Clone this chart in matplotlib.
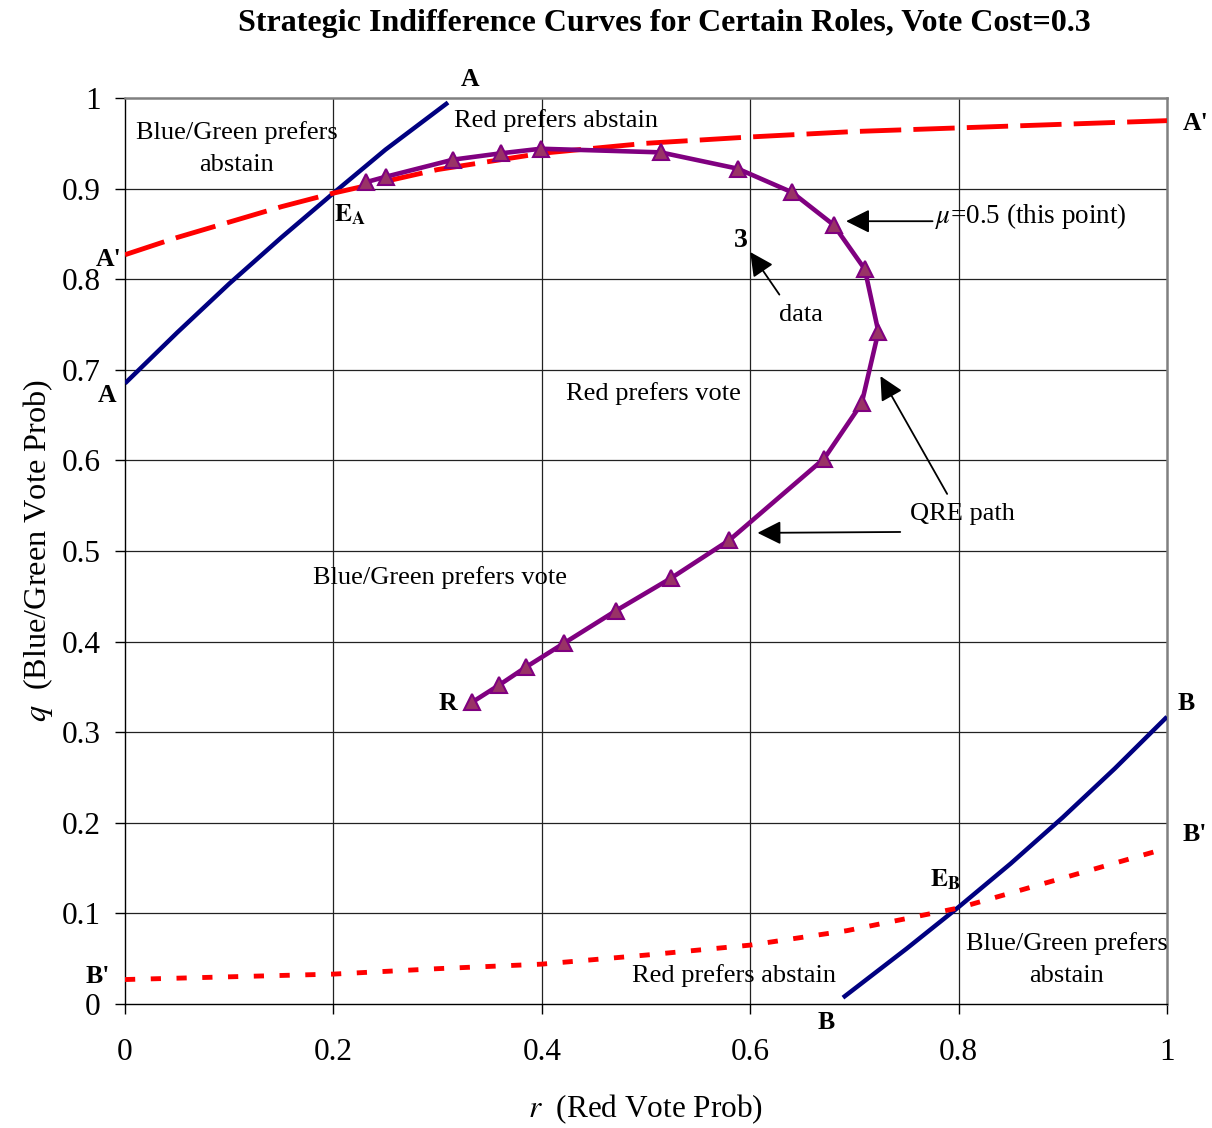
import matplotlib
matplotlib.use("Agg")
import matplotlib.pyplot as plt

plt.rcParams['font.family'] = ['Liberation Serif', 'DejaVu Serif']
plt.rcParams['mathtext.fontset'] = 'stix'

# ---- data ----
qre_r = [0.333, 0.359, 0.385, 0.421, 0.471, 0.524, 0.580, 0.671, 0.707, 0.723,
         0.710, 0.680, 0.640, 0.588, 0.514, 0.399, 0.361, 0.315, 0.250, 0.231]
qre_q = [0.333, 0.352, 0.372, 0.398, 0.434, 0.470, 0.512, 0.602, 0.663, 0.742,
         0.811, 0.860, 0.896, 0.922, 0.940, 0.944, 0.939, 0.932, 0.913, 0.907]

a_r = [0.0, 0.05, 0.10, 0.15, 0.20, 0.25, 0.31]
a_q = [0.685, 0.741, 0.795, 0.846, 0.895, 0.943, 0.995]

ap_r = [0.0, 0.05, 0.10, 0.15, 0.20, 0.30, 0.40, 0.50, 0.60, 0.70, 0.80, 0.90, 1.0]
ap_q = [0.827, 0.846, 0.863, 0.880, 0.895, 0.921, 0.939, 0.950, 0.957, 0.963, 0.967, 0.971, 0.975]

b_r = [0.689, 0.75, 0.80, 0.85, 0.90, 0.95, 1.0]
b_q = [0.007, 0.061, 0.107, 0.155, 0.206, 0.260, 0.317]

bp_r = [0.0, 0.1, 0.2, 0.3, 0.4, 0.5, 0.6, 0.693, 0.8, 0.9, 1.0]
bp_q = [0.027, 0.030, 0.033, 0.039, 0.044, 0.054, 0.065, 0.081, 0.106, 0.139, 0.172]

x_ticks = [0, 0.2, 0.4, 0.6, 0.8, 1]
x_labels = ['0', '0.2', '0.4', '0.6', '0.8', '1']
y_ticks = [0, 0.1, 0.2, 0.3, 0.4, 0.5, 0.6, 0.7, 0.8, 0.9, 1]
y_labels = ['0', '0.1', '0.2', '0.3', '0.4', '0.5', '0.6', '0.7', '0.8', '0.9', '1']

fig = plt.figure(figsize=(12.12, 11.28), dpi=100)
ax = fig.add_axes([125/1212, 1 - 1004/1128, (1167-125)/1212, (1004-98)/1128])

ax.set_xlim(0, 1)
ax.set_ylim(0, 1)

# grid
for x in x_ticks[1:-1]:
    ax.axvline(x, color='#222222', lw=0.9, zorder=1)
for y in y_ticks[1:-1]:
    ax.axhline(y, color='#222222', lw=0.9, zorder=1)

# curves
ax.plot(a_r, a_q, color='#000080', lw=3.2, zorder=3, solid_capstyle='butt')
ax.plot(b_r, b_q, color='#000080', lw=3.2, zorder=3, solid_capstyle='butt')
l1, = ax.plot(ap_r, ap_q, color='#FF0000', lw=3.5, zorder=3, dash_capstyle='butt')
l1.set_dashes((8.5, 2.5))
l2, = ax.plot(bp_r, bp_q, color='#FF0000', lw=3.5, zorder=3, dash_capstyle='butt')
l2.set_dashes((2.1, 3.2))
ax.plot(qre_r, qre_q, color='#800080', lw=3.3, zorder=4,
        marker='^', markersize=11, markerfacecolor='#993366',
        markeredgecolor='#800080', markeredgewidth=1.5)

# spines
for s in ['left', 'bottom']:
    ax.spines[s].set_color('black')
    ax.spines[s].set_linewidth(1.0)
for s in ['top', 'right']:
    ax.spines[s].set_color('#808080')
    ax.spines[s].set_linewidth(1.8)

ax.set_xticks(x_ticks)
ax.set_xticklabels(x_labels)
ax.set_yticks(y_ticks)
ax.set_yticklabels(y_labels)
ax.tick_params(axis='both', direction='out', length=7.5, width=1.0, labelsize=22.5, color='black')
ax.tick_params(axis='x', pad=17)
ax.tick_params(axis='y', pad=10)

ax.set_xlabel(r'$r$  (Red Vote Prob)', fontsize=22.5, labelpad=18)
ax.set_ylabel(r'$q$  (Blue/Green Vote Prob)', fontsize=23.2, labelpad=5)

fig.text(664/1212, 1 - 23/1128, 'Strategic Indifference Curves for Certain Roles, Vote Cost=0.3',
         ha='center', va='center', fontsize=23, fontweight='bold')

# bold labels
bold = dict(fontsize=18.5, fontweight='bold', ha='center', va='center', clip_on=False, zorder=6)
ax.text(0.331, 1.020, 'A', **bold)
ax.text(1.027, 0.972, "A'", **bold)
ax.text(-0.016, 0.822, "A'", **bold)
ax.text(-0.017, 0.672, 'A', **bold)
ax.text(0.216, 0.871, r'$\mathbf{E_{A}}$', **bold)
ax.text(0.591, 0.843, '3', fontsize=20, fontweight='bold', ha='center', va='center', zorder=6)
ax.text(0.310, 0.332, 'R', **bold)
ax.text(1.018, 0.332, 'B', **bold)
ax.text(1.027, 0.187, "B'", **bold)
ax.text(0.787, 0.137, r'$\mathbf{E_{B}}$', **bold)
ax.text(-0.026, 0.030, "B'", **bold)
ax.text(0.673, -0.020, 'B', **bold)

# region texts
norm = dict(fontsize=19, ha='center', va='center', zorder=6, linespacing=1.62)
ax.text(0.107, 0.944, 'Blue/Green prefers\nabstain', **norm)
ax.text(0.414, 0.975, 'Red prefers abstain', **norm)
ax.text(0.649, 0.760, 'data', **norm)
ax.text(0.507, 0.674, 'Red prefers vote', **norm)
ax.text(0.804, 0.541, 'QRE path', **norm)
ax.text(0.302, 0.471, 'Blue/Green prefers vote', **norm)
ax.text(0.584, 0.031, 'Red prefers abstain', **norm)
ax.text(0.904, 0.049, 'Blue/Green prefers\nabstain', **norm)
ax.text(0.777, 0.870, r'$\mu$=0.5 (this point)', fontsize=19.5, ha='left', va='center', zorder=6)

# arrows
arrows = [((0.775, 0.864), (0.692, 0.864)),
          ((0.628, 0.783), (0.600, 0.830)),
          ((0.789, 0.563), (0.725, 0.693)),
          ((0.744, 0.521), (0.607, 0.520))]
for tail, tip in arrows:
    ax.annotate('', xy=tip, xytext=tail,
                arrowprops=dict(arrowstyle='-|>,head_length=0.4,head_width=0.2',
                                mutation_scale=36, lw=1.3, color='black',
                                shrinkA=0, shrinkB=0), zorder=6)

fig.savefig('out.png', dpi=100)
